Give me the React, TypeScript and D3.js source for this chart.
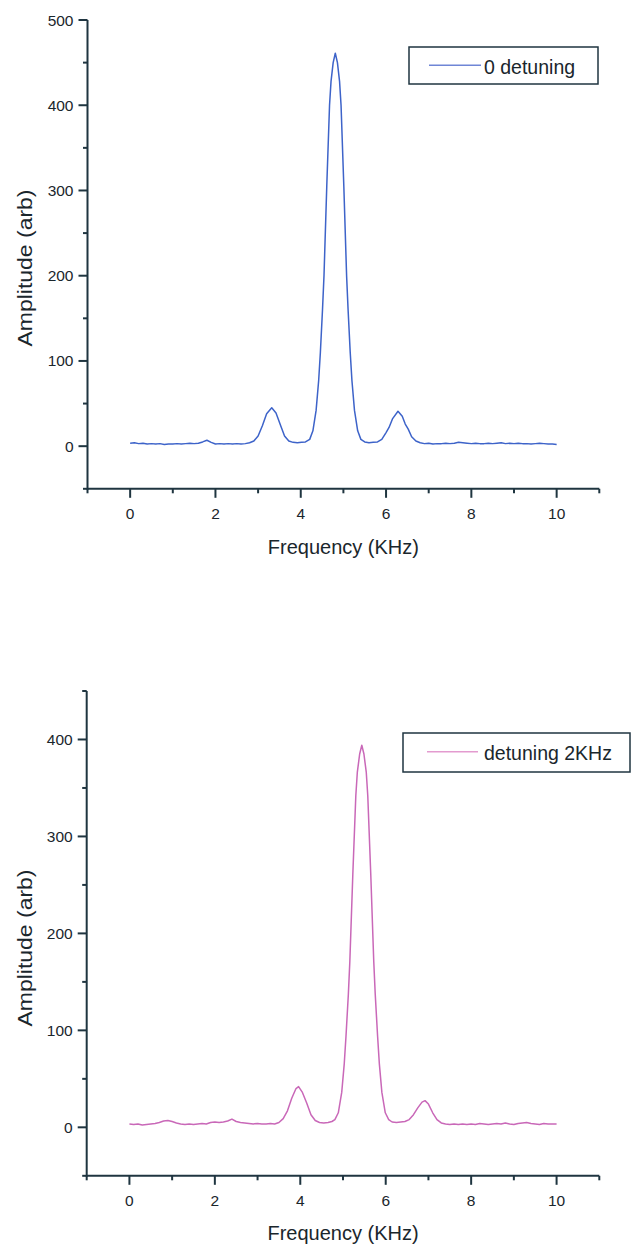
import React from 'react';
import * as d3 from 'd3';

// ---------- data ----------
const xMajorTicks = [0, 2, 4, 6, 8, 10];
const xMinorTicks = [-1, 1, 3, 5, 7, 9, 11];
const topYMajorTicks = [0, 100, 200, 300, 400, 500];
const topYMinorTicks = [-50, 50, 150, 250, 350, 450];
const bottomYMajorTicks = [0, 100, 200, 300, 400];
const bottomYMinorTicks = [-50, 50, 150, 250, 350, 450];

const topLegend = '0 detuning';
const bottomLegend = 'detuning 2KHz';
const xTitle = 'Frequency (KHz)';
const yTitle = 'Amplitude (arb)';

const topFreq = [
  0.0, 0.1, 0.2, 0.3, 0.4, 0.5, 0.6, 0.7, 0.8, 0.9,
  1.0, 1.1, 1.2, 1.3, 1.4, 1.5, 1.6, 1.7, 1.8, 1.9,
  2.0, 2.1, 2.2, 2.3, 2.4, 2.5, 2.6, 2.7, 2.8, 2.9,
  3.0, 3.1, 3.2, 3.32, 3.42, 3.53, 3.62, 3.72, 3.82, 3.92,
  4.02, 4.11, 4.21, 4.285, 4.36, 4.42, 4.46, 4.51, 4.545, 4.61,
  4.675, 4.71, 4.76, 4.81, 4.86, 4.91, 4.945, 5.01, 5.075, 5.11,
  5.16, 5.2, 5.26, 5.335, 5.41, 5.5, 5.6, 5.7, 5.8, 5.9,
  6.0, 6.07, 6.15, 6.28, 6.38, 6.45, 6.52, 6.6, 6.7, 6.8,
  6.9, 7.0, 7.1, 7.2, 7.3, 7.4, 7.5, 7.6, 7.7, 7.8,
  7.9, 8.0, 8.1, 8.2, 8.3, 8.4, 8.5, 8.6, 8.7, 8.8,
  8.9, 9.0, 9.1, 9.2, 9.3, 9.4, 9.5, 9.6, 9.7, 9.8,
  9.9, 10.0,
];
const topAmp = [
  3.5, 4, 3, 3.5, 2.5, 3, 2.5, 3, 2, 2.5,
  2.5, 3, 2.5, 3, 3.5, 3, 3.5, 5, 7, 4.5,
  2.5, 3, 2.5, 3, 2.5, 3, 2.5, 3, 4, 6,
  12, 24, 38, 45, 39, 24, 12, 6, 4.5, 4,
  4.5, 5, 8, 18, 42, 77, 110, 160, 200, 305,
  400, 428, 450, 461, 450, 428, 400, 305, 200, 160,
  110, 77, 42, 18, 8, 5, 4, 4.5, 5, 8,
  16, 22, 32, 41, 35, 26, 20, 11, 6, 4,
  3, 3.5, 2.5, 3, 3, 3.5, 3, 3.5, 4.5, 4,
  3.5, 3, 3.5, 3, 3, 3.5, 3, 3.5, 4, 3,
  3.5, 3, 3.5, 3, 3, 2.5, 3, 3.5, 3, 2.5,
  2.5, 2,
];

const bottomFreq = [
  0.0, 0.1, 0.2, 0.3, 0.4, 0.5, 0.6, 0.7, 0.8, 0.9,
  1.0, 1.1, 1.2, 1.3, 1.4, 1.5, 1.6, 1.7, 1.8, 1.9,
  2.0, 2.1, 2.2, 2.3, 2.4, 2.5, 2.6, 2.7, 2.8, 2.9,
  3.0, 3.1, 3.2, 3.3, 3.4, 3.5, 3.6, 3.7, 3.8, 3.9,
  3.96, 4.05, 4.15, 4.25, 4.35, 4.45, 4.55, 4.65, 4.74, 4.81,
  4.89, 4.97, 5.03, 5.07, 5.125, 5.16, 5.23, 5.3, 5.335, 5.39,
  5.44, 5.49, 5.545, 5.58, 5.65, 5.72, 5.755, 5.81, 5.85, 5.91,
  5.99, 6.07, 6.15, 6.25, 6.35, 6.45, 6.55, 6.65, 6.75, 6.85,
  6.92, 7.0, 7.1, 7.2, 7.3, 7.4, 7.5, 7.6, 7.7, 7.8,
  7.9, 8.0, 8.1, 8.2, 8.3, 8.4, 8.5, 8.6, 8.7, 8.8,
  8.9, 9.0, 9.1, 9.2, 9.3, 9.4, 9.5, 9.6, 9.7, 9.8,
  9.9, 10.0,
];
const bottomAmp = [
  3.5, 3, 3.5, 2.5, 3, 3.5, 4, 5, 6.5, 7,
  6, 4.5, 3.5, 3, 3.5, 3, 3.5, 4, 3.5, 5,
  5.5, 5, 5.5, 6.5, 8.5, 6, 5, 4.5, 4, 3.5,
  4, 3.5, 3.5, 4, 3.5, 5, 9, 17, 30, 40,
  42, 36, 25, 13, 7, 5, 4.5, 5, 6, 8,
  15, 36, 66, 94, 137, 171, 261, 342, 366, 385,
  394, 385, 366, 342, 261, 171, 137, 94, 66, 36,
  15, 8, 5.5, 5, 5.5, 6, 8, 13, 20, 26,
  27.5, 24, 15, 8, 4.5, 3.5, 3, 3.5, 3, 3.5,
  3, 3.5, 3, 4, 3.5, 3, 3.5, 4, 3.5, 4.5,
  3.5, 3, 4, 4.5, 5, 4, 3.5, 3, 4, 3.5,
  3.5, 3.5,
];

// ---------- styling ----------
const FONT = '"Liberation Sans", Arial, Helvetica, sans-serif';
const AXIS_COLOR = '#1f3540';
const TEXT_COLOR = '#1a262c';

type PanelProps = {
  freq: number[];
  amp: number[];
  yMajor: number[];
  yMinor: number[];
  yDomain: [number, number];
  xRange: [number, number];
  yRange: [number, number];
  color: string;
  legendColor: string;
  legendText: string;
  legendBox: { x: number; y: number; w: number; h: number };
  legendLineY: number;
  legendLineX: [number, number];
  legendTextX: number;
  legendTextY: number;
  xTitleY: number;
  yTitleCenter: number;
};

function Panel(p: PanelProps) {
  const x = d3.scaleLinear().domain([-1, 11]).range(p.xRange);
  const y = d3.scaleLinear().domain(p.yDomain).range(p.yRange);
  const pts: [number, number][] = p.freq.map((f, i) => [f, p.amp[i]]);
  const line = d3
    .line<[number, number]>()
    .x((d) => x(d[0]))
    .y((d) => y(d[1]));
  const axisY = y(p.yDomain[0]);
  const axisX = x(-1);
  const xCenter = (p.xRange[0] + p.xRange[1]) / 2;

  return (
    <g>
      {/* data line */}
      <path d={line(pts) || ''} fill="none" stroke={p.color} strokeWidth={1.5} strokeLinejoin="round" />

      {/* x axis */}
      <line x1={axisX} x2={x(11)} y1={axisY} y2={axisY} stroke={AXIS_COLOR} strokeWidth={2} />
      {xMajorTicks.map((t) => (
        <g key={'xm' + t}>
          <line x1={x(t)} x2={x(t)} y1={axisY} y2={axisY + 9} stroke={AXIS_COLOR} strokeWidth={2} />
          <text x={x(t)} y={axisY + 30} textAnchor="middle" fontFamily={FONT} fontSize={15.5} fill={TEXT_COLOR}>
            {t}
          </text>
        </g>
      ))}
      {xMinorTicks.map((t) => (
        <line key={'xn' + t} x1={x(t)} x2={x(t)} y1={axisY} y2={axisY + 4.5} stroke={AXIS_COLOR} strokeWidth={2} />
      ))}

      {/* y axis */}
      <line x1={axisX} x2={axisX} y1={axisY + 1} y2={y(p.yDomain[1])} stroke={AXIS_COLOR} strokeWidth={2} />
      {p.yMajor.map((t) => (
        <g key={'ym' + t}>
          <line x1={axisX - 9} x2={axisX} y1={y(t)} y2={y(t)} stroke={AXIS_COLOR} strokeWidth={2} />
          <text x={axisX - 14} y={y(t) + 5.5} textAnchor="end" fontFamily={FONT} fontSize={15.5} fill={TEXT_COLOR}>
            {t}
          </text>
        </g>
      ))}
      {p.yMinor.map((t) => (
        <line key={'yn' + t} x1={axisX - 4.5} x2={axisX} y1={y(t)} y2={y(t)} stroke={AXIS_COLOR} strokeWidth={2} />
      ))}

      {/* axis titles */}
      <text x={xCenter} y={p.xTitleY} textAnchor="middle" fontFamily={FONT} fontSize={20} fill={TEXT_COLOR}>
        {xTitle}
      </text>
      <text
        transform={`translate(32,${p.yTitleCenter}) rotate(-90)`}
        textAnchor="middle"
        fontFamily={FONT}
        fontSize={20}
        fill={TEXT_COLOR}
        textLength={157}
        lengthAdjust="spacingAndGlyphs"
      >
        {yTitle}
      </text>

      {/* legend */}
      <rect
        x={p.legendBox.x}
        y={p.legendBox.y}
        width={p.legendBox.w}
        height={p.legendBox.h}
        fill="#ffffff"
        stroke={AXIS_COLOR}
        strokeWidth={1.5}
      />
      <line
        x1={p.legendLineX[0]}
        x2={p.legendLineX[1]}
        y1={p.legendLineY}
        y2={p.legendLineY}
        stroke={p.legendColor}
        strokeWidth={1.5}
      />
      <text x={p.legendTextX} y={p.legendTextY} fontFamily={FONT} fontSize={19.5} fill={TEXT_COLOR}>
        {p.legendText}
      </text>
    </g>
  );
}

export default function App() {
  return (
    <svg
      width={631}
      height={1252}
      viewBox="0 0 631 1252"
      style={{ position: 'absolute', left: 0, top: 0, background: '#ffffff' }}
    >
      <rect x={0} y={0} width={631} height={1252} fill="#ffffff" />
      <Panel
        freq={topFreq}
        amp={topAmp}
        yMajor={topYMajorTicks}
        yMinor={topYMinorTicks}
        yDomain={[-50, 500]}
        xRange={[87.5, 599.3]}
        yRange={[488.8, 20]}
        color="#3d63c9"
        legendColor="#6f86d6"
        legendText={topLegend}
        legendBox={{ x: 409, y: 47, w: 189, h: 37 }}
        legendLineX={[429, 481]}
        legendLineY={65.3}
        legendTextX={484}
        legendTextY={74}
        xTitleY={553.5}
        yTitleCenter={268}
      />
      <Panel
        freq={bottomFreq}
        amp={bottomAmp}
        yMajor={bottomYMajorTicks}
        yMinor={bottomYMinorTicks}
        yDomain={[-50, 450]}
        xRange={[86.7, 599.3]}
        yRange={[1175.8, 691]}
        color="#c968b8"
        legendColor="#e39bcf"
        legendText={bottomLegend}
        legendBox={{ x: 403, y: 733, w: 227, h: 39 }}
        legendLineX={[427, 478]}
        legendLineY={751.7}
        legendTextX={484}
        legendTextY={760}
        xTitleY={1240}
        yTitleCenter={948}
      />
    </svg>
  );
}
